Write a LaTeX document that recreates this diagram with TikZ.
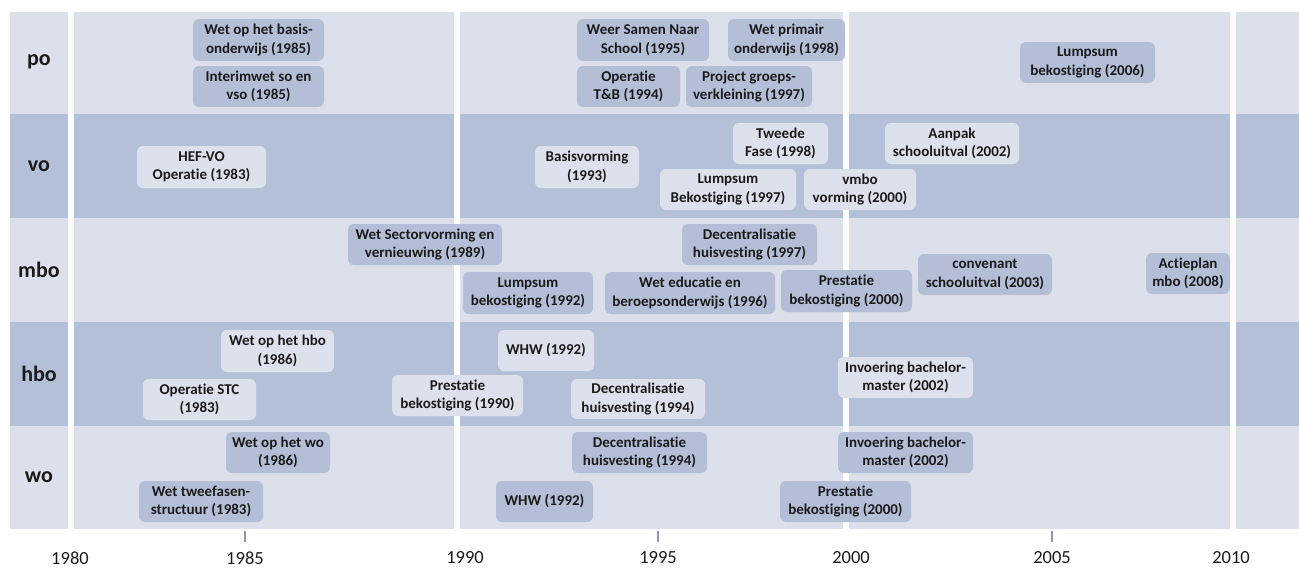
\documentclass[tikz,border=0pt]{standalone}
\usepackage{fontspec}
\setmainfont{Carlito}[Ligatures=NoCommon]
\definecolor{bandlight}{HTML}{DCE0EA}
\definecolor{banddark}{HTML}{B4C0D8}
\definecolor{boxonlight}{HTML}{B4BFD7}
\definecolor{boxondark}{HTML}{DDE1EB}
\definecolor{txt}{HTML}{1A1A1A}
\definecolor{tickc}{HTML}{8A96B4}
\newcommand\evbox[7]{\node[#6, minimum width={(#4-#2)*1pt}, minimum height={(#5-#3)*1pt}] (#1) at ({(#2+#4)/2},{(#3+#5)/2}) {#7};}
\tikzset{
  evt/.style={rounded corners=6pt, align=center, inner sep=0pt, text=txt,
    font=\bfseries\fontsize{15}{18.5}\selectfont},
  onlight/.style={evt, fill=boxonlight},
  ondark/.style={evt, fill=boxondark},
  lab/.style={text=txt, font=\bfseries\fontsize{22}{25}\selectfont},
  yr/.style={text=txt, font=\fontsize{18.5}{22}\selectfont},
  sep/.style={white, line width=5.5pt},
  tick/.style={tickc, line width=1.3pt}
}
\begin{document}
\begin{tikzpicture}[x=1pt,y=-1pt]
\useasboundingbox[fill=white] (0,0) rectangle (1299,568);
% bands
\fill[bandlight] (10,12) rectangle (1299,114);
\fill[banddark] (10,114) rectangle (1299,218);
\fill[bandlight] (10,218) rectangle (1299,322);
\fill[banddark] (10,322) rectangle (1299,426);
\fill[bandlight] (10,426) rectangle (1299,529);
% separators
\draw[sep] (71,12) -- (71,529);
\draw[sep] (457,12) -- (457,529);
\draw[sep] (846,12) -- (846,529);
\draw[sep] (1233,12) -- (1233,529);
% row labels
\node[lab] (lpo) at (39,62) {po};
\node[lab] (lvo) at (39,166) {vo};
\node[lab] (lmbo) at (39,270) {mbo};
\node[lab] (lhbo) at (39,374) {hbo};
\node[lab] (lwo) at (39,477) {wo};
% po
\evbox{p1}{193}{19}{324}{61}{onlight}{Wet op het basis-\\onderwijs (1985)}
\evbox{p2}{193}{66}{324}{107}{onlight}{Interimwet so en\\vso (1985)}
\evbox{p3}{577}{19}{709}{61}{onlight}{Weer Samen Naar\\School (1995)}
\evbox{p4}{728}{19}{845}{61}{onlight}{Wet primair\\onderwijs (1998)}
\evbox{p5}{577}{66}{680}{107}{onlight}{Operatie\\T\&B (1994)}
\evbox{p6}{686}{66}{812}{107}{onlight}{Project groeps-\\verkleining (1997)}
\evbox{p7}{1020}{42}{1155}{83}{onlight}{Lumpsum\\bekostiging (2006)}
% vo
\evbox{v1}{137}{146}{266}{188}{ondark}{HEF-VO\\Operatie (1983)}
\evbox{v2}{535}{146}{639}{188}{ondark}{Basisvorming\\(1993)}
\evbox{v3}{733}{123}{828}{164}{ondark}{Tweede\\Fase (1998)}
\evbox{v4}{885}{123}{1019}{164}{ondark}{Aanpak\\schooluitval (2002)}
\evbox{v5}{660}{169}{796}{210}{ondark}{Lumpsum\\Bekostiging (1997)}
\evbox{v6}{804}{169}{916}{210}{ondark}{vmbo\\vorming (2000)}
% mbo
\evbox{m1}{348}{224}{502}{265}{onlight}{Wet Sectorvorming en\\vernieuwing (1989)}
\evbox{m2}{463}{272}{593}{314}{onlight}{Lumpsum\\bekostiging (1992)}
\evbox{m3}{605}{272}{775}{314}{onlight}{Wet educatie en\\beroepsonderwijs (1996)}
\evbox{m4}{682}{224}{817}{265}{onlight}{Decentralisatie\\huisvesting (1997)}
\evbox{m5}{781}{270}{912}{312}{onlight}{Prestatie\\bekostiging (2000)}
\evbox{m6}{918}{254}{1052}{295}{onlight}{convenant\\schooluitval (2003)}
\evbox{m7}{1146}{253}{1230}{294}{onlight}{Actieplan\\mbo (2008)}
% hbo
\evbox{h1}{221}{330}{334}{372}{ondark}{Wet op het hbo\\(1986)}
\evbox{h2}{143}{379}{256}{420}{ondark}{Operatie STC\\(1983)}
\evbox{h3}{498}{330}{594}{371}{ondark}{WHW (1992)}
\evbox{h4}{392}{375}{523}{416}{ondark}{Prestatie\\bekostiging (1990)}
\evbox{h5}{571}{379}{705}{419}{ondark}{Decentralisatie\\huisvesting (1994)}
\evbox{h6}{838}{357}{973}{398}{ondark}{Invoering bachelor-\\master (2002)}
% wo
\evbox{w1}{226}{432}{330}{473}{onlight}{Wet op het wo\\(1986)}
\evbox{w2}{139}{481}{263}{522}{onlight}{Wet tweefasen-\\structuur (1983)}
\evbox{w3}{496}{481}{593}{522}{onlight}{WHW (1992)}
\evbox{w4}{572}{432}{707}{473}{onlight}{Decentralisatie\\huisvesting (1994)}
\evbox{w5}{838}{432}{973}{473}{onlight}{Invoering bachelor-\\master (2002)}
\evbox{w6}{780}{481}{911}{522}{onlight}{Prestatie\\bekostiging (2000)}
% ticks
\draw[tick] (245,531) -- (245,542);
\draw[tick] (658,531) -- (658,542);
\draw[tick] (1052,531) -- (1052,542);
% years
\node[yr] (y1980) at (70,558) {1980};
\node[yr] (y1985) at (245,558) {1985};
\node[yr] (y1990) at (465,558) {1990};
\node[yr] (y1995) at (658,558) {1995};
\node[yr] (y2000) at (851,558) {2000};
\node[yr] (y2005) at (1052,558) {2005};
\node[yr] (y2010) at (1231,558) {2010};
\end{tikzpicture}
\end{document}
